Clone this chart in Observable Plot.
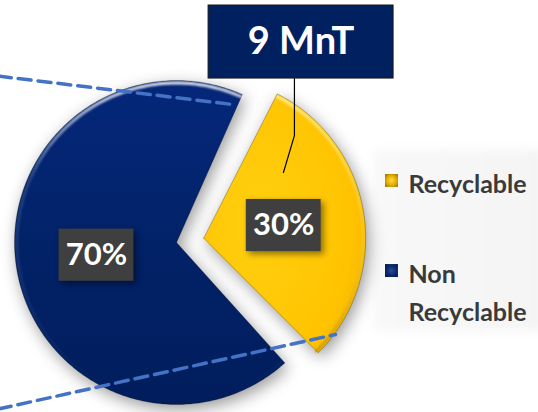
<!DOCTYPE html>
<html><head><meta charset="utf-8">
<script src="https://cdn.jsdelivr.net/npm/d3@7"></script>
<script src="https://cdn.jsdelivr.net/npm/@observablehq/plot@0.6"></script>
<style>
body{margin:0;background:#fff;}
.pie-slice{filter: drop-shadow(3px 5px 8px rgba(0,0,0,0.4));}
.label-box{filter: drop-shadow(3px 3px 3px rgba(0,0,0,0.45));}
.legend-bg{filter: blur(5px);}
.rim{filter: blur(1px);}
</style></head><body>
<svg width="0" height="0" style="position:absolute">
<defs>
<radialGradient id="gradYellow" cx="0.35" cy="0.5" r="0.75">
<stop offset="0" stop-color="#FFD010"/><stop offset="0.75" stop-color="#FFC300"/><stop offset="1" stop-color="#F2B300"/>
</radialGradient>
<linearGradient id="gradNavy" x1="0" y1="0" x2="0" y2="1">
<stop offset="0" stop-color="#05277a"/><stop offset="0.5" stop-color="#022268"/><stop offset="1" stop-color="#011d5c"/>
</linearGradient>
<linearGradient id="rimLight" x1="0" y1="0" x2="0" y2="1">
<stop offset="0" stop-color="#ffffff" stop-opacity="0.9"/><stop offset="0.3" stop-color="#ffffff" stop-opacity="0.15"/><stop offset="1" stop-color="#ffffff" stop-opacity="0"/>
</linearGradient>
<linearGradient id="rimYellow" x1="0" y1="0" x2="0" y2="1">
<stop offset="0" stop-color="#FFF0A0" stop-opacity="0.9"/><stop offset="0.5" stop-color="#FFE060" stop-opacity="0.3"/><stop offset="1" stop-color="#B08000" stop-opacity="0.6"/>
</linearGradient>
<radialGradient id="keyYellow" cx="0.5" cy="0.5" r="0.6">
<stop offset="0" stop-color="#FFD84A"/><stop offset="0.6" stop-color="#E5B000"/><stop offset="1" stop-color="#A87C00"/>
</radialGradient>
<radialGradient id="keyNavy" cx="0.5" cy="0.5" r="0.6">
<stop offset="0" stop-color="#2a4a9a"/><stop offset="0.6" stop-color="#0a2a70"/><stop offset="1" stop-color="#021a50"/>
</radialGradient>
<linearGradient id="legendBg" x1="0" y1="0" x2="1" y2="0">
<stop offset="0" stop-color="#f8f8f8"/><stop offset="1" stop-color="#f4f4f4"/>
</linearGradient>
</defs>
</svg>
<script>
// ---- data ----
const categories = ["Recyclable", "Non Recyclable"];
const shares = [30, 70];
const shareLabels = ["30%", "70%"];
const legendLabels = ["Recyclable", "Non\nRecyclable"];
const totalLabel = "9 MnT";

// ---- styles ----
const sliceFills = ["url(#gradYellow)", "url(#gradNavy)"];
const rimFills = ["url(#rimYellow)", "url(#rimLight)"];
const keyFills = ["url(#keyYellow)", "url(#keyNavy)"];

// ---- layout (units of pie radius, origin at pie centre, y up) ----
const W = 538, H = 412, R = 162, CX = 176, CY = 242;
const startDeg = 27, explodeR = 0.17, gapDeg = 3, explodedIndex = 0;
const calloutBox = [{x1: 0.198, x2: 1.340, y1: 1.012, y2: 1.463}];
const calloutLeader = [[0.728, 1.012], [0.728, 0.660], [0.660, 0.432]];
const zoomLines = [
  [[-1.1, 1.027], [0.346, 0.852]],
  [[-1.1, -1.028], [0.981, -0.568]]
];
const legendBg = [{x1: 1.22, x2: 2.3, y1: -0.55, y2: 0.57}];
const legendKeyX = 1.327, legendTextX = 1.432;
const legendKeyY = [0.383, -0.173];
const legendTextY = [0.383, -0.290];

// ---- pie geometry from data ----
const total = d3.sum(shares);
const rad = Math.PI / 180;
const pt = (deg, r, ox = 0, oy = 0) => [ox + r * Math.sin(deg * rad), oy + r * Math.cos(deg * rad)];
let acc = startDeg;
const slices = shares.map((v, i) => {
  const a0 = acc; acc += v / total * 360;
  const s = {i, name: categories[i], a0, a1: acc, mid: (a0 + acc) / 2};
  const [ox, oy] = pt(s.mid, i === explodedIndex ? explodeR : 0);
  const pad = i === explodedIndex ? 0 : gapDeg;
  const b0 = a0 + pad, b1 = acc - pad;
  const angles = d3.range(b0, b1, 1).concat([b1]);
  s.arc = angles.map(a => pt(a, 1, ox, oy));
  s.rim = angles.map(a => pt(a, 0.985, ox, oy));
  s.poly = [[ox, oy], ...s.arc, [ox, oy]];
  s.label = pt(s.mid, 0.5, ox, oy);
  return s;
});

const bw = 0.231, bh = 0.161;
const X = d => d[0], Y = d => d[1];
const marks = [
  Plot.rect(legendBg, {x1: "x1", x2: "x2", y1: "y1", y2: "y2", fill: "url(#legendBg)", className: "legend-bg"}),
  ...slices.map(s => Plot.line(s.poly, {x: X, y: Y, fill: sliceFills[s.i], stroke: "none", className: "pie-slice"})),
  ...slices.map(s => Plot.line(s.rim, {x: X, y: Y, stroke: rimFills[s.i], strokeWidth: 3, className: "rim"})),
  ...slices.map(s => Plot.line(s.poly, {x: X, y: Y, stroke: "rgba(0,0,0,0.25)", strokeWidth: 1})),
  Plot.rect(slices, {x1: d => d.label[0] - bw, x2: d => d.label[0] + bw, y1: d => d.label[1] - bh, y2: d => d.label[1] + bh, fill: "#3f3f3f", className: "label-box"}),
  Plot.text(slices, {x: d => d.label[0], y: d => d.label[1], text: d => shareLabels[d.i], fill: "white", fontSize: 31, fontFamily: "Lato", fontWeight: "bold"}),
  ...zoomLines.map(l => Plot.line(l, {x: X, y: Y, stroke: "#4472C4", strokeWidth: 3.5, strokeDasharray: "13,7"})),
  Plot.line(calloutLeader, {x: X, y: Y, stroke: "#000", strokeWidth: 1.2}),
  Plot.rect(calloutBox, {x1: "x1", x2: "x2", y1: "y1", y2: "y2", fill: "#002060", stroke: "#1a1a1a", strokeWidth: 1}),
  Plot.text(calloutBox, {x: d => (d.x1 + d.x2) / 2, y: d => (d.y1 + d.y2) / 2, text: () => totalLabel, fill: "white", fontSize: 38, fontFamily: "Lato", fontWeight: "bold"}),
  ...categories.map((c, i) => Plot.dot([c], {x: () => legendKeyX, y: () => legendKeyY[i], symbol: "square", r: 7.3, fill: keyFills[i], stroke: "none"})),
  Plot.text(legendLabels, {x: () => legendTextX, y: (d, i) => legendTextY[i], text: d => d, textAnchor: "start", lineHeight: 1.52, fill: "#3a3a3a", fontSize: 25, fontFamily: "Lato", fontWeight: "bold"})
];

const plot = Plot.plot({
  width: W, height: H, margin: 0,
  x: {domain: [-CX / R, (W - CX) / R], axis: null},
  y: {domain: [-(H - CY) / R, CY / R], axis: null},
  style: {background: "transparent", overflow: "visible"},
  marks
});
document.body.append(plot);
</script>
</body></html>
